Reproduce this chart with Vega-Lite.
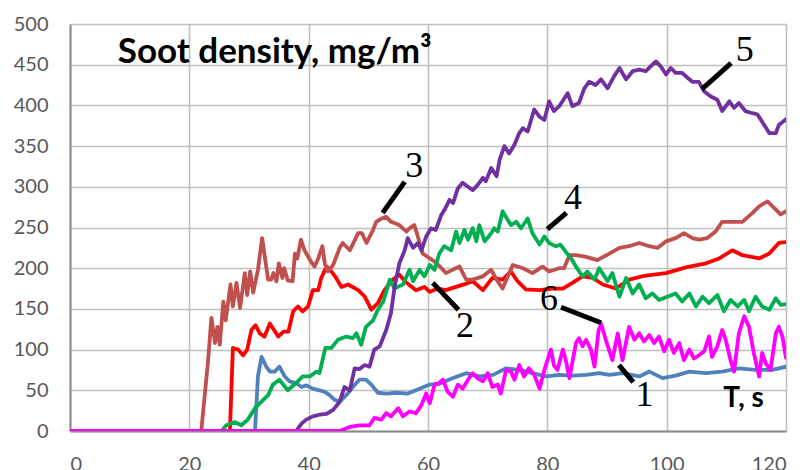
{
  "$schema": "https://vega.github.io/schema/vega-lite/v6.json",
  "width": 716,
  "height": 407,
  "autosize": {"type": "none"},
  "padding": {"left": 70, "top": 24, "right": 20, "bottom": 39},
  "background": "white",
  "config": {
    "view": {"stroke": null},
    "axis": {
      "grid": true,
      "gridColor": "#c0c0c0",
      "gridWidth": 1.6,
      "domainColor": "#8a8a8a",
      "domainWidth": 2,
      "ticks": false,
      "labelFont": "Lato",
      "labelFontSize": 20,
      "labelColor": "#595959",
      "title": null
    }
  },
  "datasets": {
    "series": [
      {"s":"1","x":0,"y":0},{"s":"1","x":31.0,"y":0},{"s":"1","x":31.5,"y":67},{"s":"1","x":32.1,"y":91},{"s":"1","x":32.9,"y":79},{"s":"1","x":33.5,"y":73},{"s":"1","x":34.3,"y":73},{"s":"1","x":35.1,"y":79},{"s":"1","x":36.0,"y":67},{"s":"1","x":36.8,"y":61},{"s":"1","x":37.9,"y":59},{"s":"1","x":38.8,"y":54},{"s":"1","x":39.6,"y":56},{"s":"1","x":40.7,"y":52},{"s":"1","x":41.8,"y":50},{"s":"1","x":42.7,"y":48},{"s":"1","x":43.5,"y":44},{"s":"1","x":44.4,"y":38},{"s":"1","x":45.2,"y":36},{"s":"1","x":46.3,"y":44},{"s":"1","x":47.4,"y":54},{"s":"1","x":48.5,"y":63},{"s":"1","x":49.6,"y":63},{"s":"1","x":50.5,"y":57},{"s":"1","x":51.6,"y":47},{"s":"1","x":53.0,"y":46},{"s":"1","x":54.7,"y":47},{"s":"1","x":56.6,"y":46},{"s":"1","x":58.6,"y":52},{"s":"1","x":60.3,"y":57},{"s":"1","x":61.9,"y":58},{"s":"1","x":64.2,"y":65},{"s":"1","x":66.4,"y":71},{"s":"1","x":68.6,"y":67},{"s":"1","x":70.9,"y":69},{"s":"1","x":73.1,"y":77},{"s":"1","x":75.3,"y":75},{"s":"1","x":77.5,"y":71},{"s":"1","x":79.8,"y":67},{"s":"1","x":82.0,"y":69},{"s":"1","x":84.2,"y":68},{"s":"1","x":86.5,"y":69},{"s":"1","x":88.7,"y":71},{"s":"1","x":90.4,"y":69},{"s":"1","x":92.6,"y":71},{"s":"1","x":95.4,"y":67},{"s":"1","x":97.1,"y":73},{"s":"1","x":99.3,"y":65},{"s":"1","x":101.5,"y":68},{"s":"1","x":103.8,"y":73},{"s":"1","x":106.6,"y":71},{"s":"1","x":109.3,"y":73},{"s":"1","x":112.1,"y":77},{"s":"1","x":114.9,"y":75},{"s":"1","x":117.7,"y":75},{"s":"1","x":120,"y":79},

      {"s":"2","x":0,"y":0},{"s":"2","x":26.8,"y":0},{"s":"2","x":27.3,"y":102},{"s":"2","x":28.2,"y":100},{"s":"2","x":29.0,"y":93},{"s":"2","x":29.7,"y":100},{"s":"2","x":30.4,"y":124},{"s":"2","x":31.1,"y":130},{"s":"2","x":31.8,"y":120},{"s":"2","x":32.6,"y":116},{"s":"2","x":33.5,"y":132},{"s":"2","x":34.2,"y":124},{"s":"2","x":34.9,"y":116},{"s":"2","x":35.8,"y":122},{"s":"2","x":36.6,"y":122},{"s":"2","x":37.4,"y":147},{"s":"2","x":38.2,"y":153},{"s":"2","x":39.0,"y":147},{"s":"2","x":39.9,"y":153},{"s":"2","x":40.7,"y":173},{"s":"2","x":41.6,"y":173},{"s":"2","x":42.1,"y":188},{"s":"2","x":43.0,"y":202},{"s":"2","x":43.8,"y":196},{"s":"2","x":44.6,"y":188},{"s":"2","x":45.5,"y":177},{"s":"2","x":46.6,"y":180},{"s":"2","x":48.3,"y":173},{"s":"2","x":49.4,"y":165},{"s":"2","x":50.5,"y":149},{"s":"2","x":51.6,"y":157},{"s":"2","x":52.7,"y":173},{"s":"2","x":54.1,"y":186},{"s":"2","x":55.2,"y":192},{"s":"2","x":56.4,"y":182},{"s":"2","x":58.0,"y":173},{"s":"2","x":59.4,"y":177},{"s":"2","x":60.3,"y":171},{"s":"2","x":61.7,"y":175},{"s":"2","x":63.0,"y":173},{"s":"2","x":64.7,"y":177},{"s":"2","x":66.4,"y":181},{"s":"2","x":67.5,"y":184},{"s":"2","x":69.2,"y":173},{"s":"2","x":70.8,"y":188},{"s":"2","x":72.5,"y":186},{"s":"2","x":73.9,"y":196},{"s":"2","x":75.0,"y":184},{"s":"2","x":76.4,"y":174},{"s":"2","x":78.7,"y":173},{"s":"2","x":80.9,"y":175},{"s":"2","x":82.6,"y":175},{"s":"2","x":84.2,"y":182},{"s":"2","x":85.9,"y":190},{"s":"2","x":87.6,"y":188},{"s":"2","x":89.3,"y":180},{"s":"2","x":91.5,"y":175},{"s":"2","x":93.7,"y":186},{"s":"2","x":96.5,"y":191},{"s":"2","x":99.9,"y":194},{"s":"2","x":103.2,"y":201},{"s":"2","x":106.6,"y":206},{"s":"2","x":108.8,"y":212},{"s":"2","x":111.0,"y":222},{"s":"2","x":112.7,"y":216},{"s":"2","x":115.5,"y":212},{"s":"2","x":117.2,"y":218},{"s":"2","x":118.8,"y":231},{"s":"2","x":120,"y":232},

      {"s":"3","x":0,"y":0},{"s":"3","x":22.0,"y":0},{"s":"3","x":23.1,"y":83},{"s":"3","x":23.7,"y":139},{"s":"3","x":24.3,"y":108},{"s":"3","x":24.7,"y":128},{"s":"3","x":25.1,"y":106},{"s":"3","x":25.7,"y":159},{"s":"3","x":26.1,"y":136},{"s":"3","x":26.9,"y":180},{"s":"3","x":27.3,"y":153},{"s":"3","x":27.9,"y":182},{"s":"3","x":28.5,"y":151},{"s":"3","x":29.3,"y":194},{"s":"3","x":29.7,"y":167},{"s":"3","x":30.2,"y":196},{"s":"3","x":30.7,"y":170},{"s":"3","x":31.5,"y":198},{"s":"3","x":32.2,"y":237},{"s":"3","x":33.2,"y":186},{"s":"3","x":33.7,"y":186},{"s":"3","x":34.1,"y":194},{"s":"3","x":34.6,"y":184},{"s":"3","x":35.0,"y":206},{"s":"3","x":35.6,"y":188},{"s":"3","x":35.9,"y":200},{"s":"3","x":36.5,"y":185},{"s":"3","x":37.3,"y":184},{"s":"3","x":37.7,"y":218},{"s":"3","x":38.1,"y":212},{"s":"3","x":38.7,"y":235},{"s":"3","x":39.3,"y":222},{"s":"3","x":40.4,"y":208},{"s":"3","x":41.0,"y":202},{"s":"3","x":41.6,"y":212},{"s":"3","x":42.3,"y":227},{"s":"3","x":42.7,"y":206},{"s":"3","x":43.2,"y":196},{"s":"3","x":44.1,"y":204},{"s":"3","x":45.2,"y":225},{"s":"3","x":45.7,"y":231},{"s":"3","x":46.9,"y":222},{"s":"3","x":48.3,"y":243},{"s":"3","x":48.9,"y":243},{"s":"3","x":49.7,"y":231},{"s":"3","x":50.8,"y":247},{"s":"3","x":51.3,"y":257},{"s":"3","x":52.2,"y":261},{"s":"3","x":53.0,"y":263},{"s":"3","x":53.8,"y":257},{"s":"3","x":55.2,"y":253},{"s":"3","x":56.4,"y":245},{"s":"3","x":56.9,"y":249},{"s":"3","x":57.7,"y":253},{"s":"3","x":58.3,"y":239},{"s":"3","x":59.1,"y":218},{"s":"3","x":59.9,"y":214},{"s":"3","x":61.1,"y":208},{"s":"3","x":62.0,"y":202},{"s":"3","x":63.0,"y":194},{"s":"3","x":64.1,"y":198},{"s":"3","x":65.3,"y":202},{"s":"3","x":66.4,"y":186},{"s":"3","x":67.5,"y":186},{"s":"3","x":69.2,"y":190},{"s":"3","x":70.6,"y":198},{"s":"3","x":71.5,"y":186},{"s":"3","x":72.5,"y":175},{"s":"3","x":73.4,"y":190},{"s":"3","x":74.2,"y":204},{"s":"3","x":75.9,"y":200},{"s":"3","x":77.5,"y":194},{"s":"3","x":79.2,"y":202},{"s":"3","x":80.3,"y":196},{"s":"3","x":82.0,"y":200},{"s":"3","x":82.8,"y":200},{"s":"3","x":83.7,"y":216},{"s":"3","x":84.8,"y":216},{"s":"3","x":86.5,"y":214},{"s":"3","x":88.4,"y":210},{"s":"3","x":90.4,"y":218},{"s":"3","x":92.1,"y":225},{"s":"3","x":93.7,"y":227},{"s":"3","x":95.4,"y":231},{"s":"3","x":97.1,"y":227},{"s":"3","x":98.5,"y":225},{"s":"3","x":99.9,"y":233},{"s":"3","x":101.5,"y":237},{"s":"3","x":102.9,"y":243},{"s":"3","x":104.3,"y":237},{"s":"3","x":105.4,"y":235},{"s":"3","x":106.8,"y":237},{"s":"3","x":108.2,"y":245},{"s":"3","x":109.3,"y":257},{"s":"3","x":111.0,"y":257},{"s":"3","x":112.7,"y":257},{"s":"3","x":114.4,"y":268},{"s":"3","x":115.5,"y":276},{"s":"3","x":116.9,"y":282},{"s":"3","x":118.3,"y":272},{"s":"3","x":119.1,"y":266},{"s":"3","x":120,"y":270},

      {"s":"4","x":0,"y":0},{"s":"4","x":25.4,"y":0},{"s":"4","x":26.2,"y":7},{"s":"4","x":27.6,"y":11},{"s":"4","x":28.7,"y":7},{"s":"4","x":29.8,"y":14},{"s":"4","x":31.0,"y":28},{"s":"4","x":32.1,"y":36},{"s":"4","x":33.2,"y":44},{"s":"4","x":34.0,"y":57},{"s":"4","x":35.1,"y":63},{"s":"4","x":36.5,"y":50},{"s":"4","x":37.9,"y":59},{"s":"4","x":39.0,"y":67},{"s":"4","x":40.2,"y":67},{"s":"4","x":41.3,"y":73},{"s":"4","x":41.8,"y":71},{"s":"4","x":42.8,"y":102},{"s":"4","x":43.8,"y":102},{"s":"4","x":44.9,"y":112},{"s":"4","x":46.3,"y":116},{"s":"4","x":47.4,"y":114},{"s":"4","x":48.0,"y":120},{"s":"4","x":48.8,"y":106},{"s":"4","x":49.6,"y":128},{"s":"4","x":50.8,"y":136},{"s":"4","x":51.6,"y":149},{"s":"4","x":52.5,"y":159},{"s":"4","x":53.6,"y":186},{"s":"4","x":54.4,"y":175},{"s":"4","x":55.2,"y":178},{"s":"4","x":55.8,"y":180},{"s":"4","x":56.9,"y":198},{"s":"4","x":57.5,"y":184},{"s":"4","x":58.6,"y":198},{"s":"4","x":59.4,"y":190},{"s":"4","x":60.3,"y":204},{"s":"4","x":61.1,"y":198},{"s":"4","x":61.9,"y":218},{"s":"4","x":62.7,"y":227},{"s":"4","x":63.9,"y":222},{"s":"4","x":64.7,"y":245},{"s":"4","x":65.3,"y":231},{"s":"4","x":66.1,"y":247},{"s":"4","x":66.7,"y":235},{"s":"4","x":67.5,"y":249},{"s":"4","x":68.1,"y":233},{"s":"4","x":68.6,"y":253},{"s":"4","x":69.5,"y":233},{"s":"4","x":70.6,"y":243},{"s":"4","x":71.1,"y":249},{"s":"4","x":71.7,"y":245},{"s":"4","x":72.5,"y":270},{"s":"4","x":73.4,"y":259},{"s":"4","x":73.9,"y":253},{"s":"4","x":74.8,"y":257},{"s":"4","x":75.6,"y":249},{"s":"4","x":76.7,"y":261},{"s":"4","x":77.5,"y":243},{"s":"4","x":78.7,"y":229},{"s":"4","x":79.5,"y":239},{"s":"4","x":80.3,"y":231},{"s":"4","x":81.4,"y":227},{"s":"4","x":82.2,"y":229},{"s":"4","x":83.1,"y":220},{"s":"4","x":84.0,"y":212},{"s":"4","x":84.8,"y":202},{"s":"4","x":85.9,"y":190},{"s":"4","x":86.7,"y":196},{"s":"4","x":87.9,"y":186},{"s":"4","x":88.7,"y":200},{"s":"4","x":90.1,"y":184},{"s":"4","x":90.9,"y":194},{"s":"4","x":92.1,"y":165},{"s":"4","x":93.2,"y":188},{"s":"4","x":94.3,"y":169},{"s":"4","x":95.4,"y":180},{"s":"4","x":96.5,"y":163},{"s":"4","x":97.6,"y":169},{"s":"4","x":98.7,"y":161},{"s":"4","x":100.1,"y":165},{"s":"4","x":101.5,"y":169},{"s":"4","x":102.6,"y":159},{"s":"4","x":103.8,"y":169},{"s":"4","x":104.9,"y":153},{"s":"4","x":106.0,"y":165},{"s":"4","x":107.1,"y":157},{"s":"4","x":108.5,"y":167},{"s":"4","x":109.6,"y":147},{"s":"4","x":110.7,"y":161},{"s":"4","x":111.9,"y":153},{"s":"4","x":113.0,"y":161},{"s":"4","x":113.8,"y":147},{"s":"4","x":114.9,"y":165},{"s":"4","x":116.0,"y":153},{"s":"4","x":117.2,"y":149},{"s":"4","x":118.3,"y":163},{"s":"4","x":119.1,"y":155},{"s":"4","x":120,"y":156},

      {"s":"5","x":0,"y":0},{"s":"5","x":37.9,"y":0},{"s":"5","x":38.8,"y":9},{"s":"5","x":39.6,"y":14},{"s":"5","x":40.7,"y":18},{"s":"5","x":41.8,"y":20},{"s":"5","x":43.0,"y":21},{"s":"5","x":44.1,"y":26},{"s":"5","x":45.2,"y":36},{"s":"5","x":46.0,"y":54},{"s":"5","x":46.9,"y":50},{"s":"5","x":47.7,"y":77},{"s":"5","x":48.5,"y":76},{"s":"5","x":49.4,"y":81},{"s":"5","x":50.2,"y":79},{"s":"5","x":51.0,"y":100},{"s":"5","x":51.9,"y":104},{"s":"5","x":53.0,"y":124},{"s":"5","x":53.8,"y":145},{"s":"5","x":54.4,"y":177},{"s":"5","x":55.2,"y":206},{"s":"5","x":56.1,"y":222},{"s":"5","x":56.6,"y":237},{"s":"5","x":57.5,"y":225},{"s":"5","x":58.3,"y":231},{"s":"5","x":58.9,"y":222},{"s":"5","x":59.7,"y":239},{"s":"5","x":60.5,"y":249},{"s":"5","x":61.3,"y":247},{"s":"5","x":62.2,"y":265},{"s":"5","x":62.8,"y":272},{"s":"5","x":63.6,"y":284},{"s":"5","x":64.2,"y":280},{"s":"5","x":65.0,"y":298},{"s":"5","x":65.8,"y":305},{"s":"5","x":66.7,"y":300},{"s":"5","x":67.5,"y":296},{"s":"5","x":68.3,"y":302},{"s":"5","x":69.2,"y":311},{"s":"5","x":69.7,"y":307},{"s":"5","x":70.6,"y":323},{"s":"5","x":71.5,"y":313},{"s":"5","x":72.0,"y":333},{"s":"5","x":72.8,"y":350},{"s":"5","x":73.6,"y":341},{"s":"5","x":74.5,"y":352},{"s":"5","x":75.3,"y":366},{"s":"5","x":75.9,"y":372},{"s":"5","x":76.7,"y":368},{"s":"5","x":77.8,"y":395},{"s":"5","x":78.7,"y":386},{"s":"5","x":79.5,"y":382},{"s":"5","x":80.3,"y":405},{"s":"5","x":81.1,"y":393},{"s":"5","x":82.0,"y":399},{"s":"5","x":83.4,"y":415},{"s":"5","x":84.2,"y":399},{"s":"5","x":85.3,"y":403},{"s":"5","x":86.2,"y":421},{"s":"5","x":87.0,"y":429},{"s":"5","x":88.1,"y":425},{"s":"5","x":89.0,"y":432},{"s":"5","x":90.1,"y":421},{"s":"5","x":91.2,"y":436},{"s":"5","x":92.1,"y":446},{"s":"5","x":93.2,"y":432},{"s":"5","x":94.3,"y":442},{"s":"5","x":95.4,"y":444},{"s":"5","x":96.5,"y":442},{"s":"5","x":97.3,"y":448},{"s":"5","x":98.2,"y":454},{"s":"5","x":99.0,"y":448},{"s":"5","x":99.9,"y":438},{"s":"5","x":100.7,"y":446},{"s":"5","x":101.5,"y":440},{"s":"5","x":102.6,"y":440},{"s":"5","x":103.5,"y":434},{"s":"5","x":104.3,"y":429},{"s":"5","x":105.4,"y":429},{"s":"5","x":106.3,"y":417},{"s":"5","x":107.4,"y":411},{"s":"5","x":108.5,"y":407},{"s":"5","x":109.3,"y":393},{"s":"5","x":110.5,"y":405},{"s":"5","x":111.3,"y":397},{"s":"5","x":112.1,"y":403},{"s":"5","x":113.2,"y":393},{"s":"5","x":114.1,"y":391},{"s":"5","x":115.2,"y":389},{"s":"5","x":116.0,"y":380},{"s":"5","x":117.2,"y":366},{"s":"5","x":118.3,"y":366},{"s":"5","x":118.8,"y":376},{"s":"5","x":120,"y":383},

      {"s":"6","x":0,"y":0},{"s":"6","x":45.2,"y":0},{"s":"6","x":46.9,"y":5},{"s":"6","x":48.5,"y":7},{"s":"6","x":50.2,"y":7},{"s":"6","x":51.0,"y":16},{"s":"6","x":52.2,"y":14},{"s":"6","x":53.0,"y":22},{"s":"6","x":53.8,"y":18},{"s":"6","x":55.0,"y":28},{"s":"6","x":55.8,"y":18},{"s":"6","x":56.9,"y":24},{"s":"6","x":58.0,"y":22},{"s":"6","x":58.9,"y":32},{"s":"6","x":59.7,"y":46},{"s":"6","x":60.3,"y":34},{"s":"6","x":61.1,"y":57},{"s":"6","x":61.9,"y":59},{"s":"6","x":62.5,"y":63},{"s":"6","x":63.3,"y":48},{"s":"6","x":64.2,"y":42},{"s":"6","x":65.0,"y":57},{"s":"6","x":65.8,"y":52},{"s":"6","x":66.7,"y":63},{"s":"6","x":67.5,"y":71},{"s":"6","x":68.3,"y":65},{"s":"6","x":69.2,"y":61},{"s":"6","x":70.0,"y":71},{"s":"6","x":70.8,"y":54},{"s":"6","x":71.7,"y":57},{"s":"6","x":72.2,"y":46},{"s":"6","x":73.1,"y":75},{"s":"6","x":73.9,"y":73},{"s":"6","x":74.5,"y":63},{"s":"6","x":75.3,"y":81},{"s":"6","x":76.1,"y":67},{"s":"6","x":76.9,"y":77},{"s":"6","x":77.8,"y":69},{"s":"6","x":78.7,"y":52},{"s":"6","x":79.5,"y":75},{"s":"6","x":80.6,"y":100},{"s":"6","x":81.1,"y":81},{"s":"6","x":81.7,"y":75},{"s":"6","x":82.6,"y":100},{"s":"6","x":83.1,"y":87},{"s":"6","x":83.7,"y":65},{"s":"6","x":84.8,"y":108},{"s":"6","x":85.3,"y":114},{"s":"6","x":85.9,"y":104},{"s":"6","x":86.5,"y":112},{"s":"6","x":87.3,"y":100},{"s":"6","x":87.9,"y":79},{"s":"6","x":88.6,"y":124},{"s":"6","x":89.0,"y":132},{"s":"6","x":89.8,"y":112},{"s":"6","x":90.9,"y":87},{"s":"6","x":91.8,"y":120},{"s":"6","x":92.6,"y":87},{"s":"6","x":93.7,"y":128},{"s":"6","x":94.6,"y":112},{"s":"6","x":95.4,"y":120},{"s":"6","x":96.2,"y":110},{"s":"6","x":97.1,"y":118},{"s":"6","x":97.9,"y":108},{"s":"6","x":98.7,"y":116},{"s":"6","x":99.6,"y":98},{"s":"6","x":100.4,"y":112},{"s":"6","x":101.2,"y":96},{"s":"6","x":102.1,"y":108},{"s":"6","x":102.9,"y":87},{"s":"6","x":103.8,"y":100},{"s":"6","x":104.6,"y":89},{"s":"6","x":105.4,"y":93},{"s":"6","x":106.3,"y":98},{"s":"6","x":107.1,"y":116},{"s":"6","x":107.6,"y":91},{"s":"6","x":108.5,"y":104},{"s":"6","x":109.3,"y":124},{"s":"6","x":109.9,"y":112},{"s":"6","x":110.7,"y":87},{"s":"6","x":111.3,"y":73},{"s":"6","x":112.1,"y":120},{"s":"6","x":113.0,"y":141},{"s":"6","x":113.8,"y":128},{"s":"6","x":114.6,"y":96},{"s":"6","x":115.5,"y":67},{"s":"6","x":116.0,"y":96},{"s":"6","x":116.6,"y":83},{"s":"6","x":117.4,"y":75},{"s":"6","x":118.3,"y":120},{"s":"6","x":118.8,"y":128},{"s":"6","x":119.4,"y":116},{"s":"6","x":120,"y":90}
    ],
    "leaders": [
      {"n":"3","x":52.4,"y":268,"x2":56.1,"y2":306},
      {"n":"5","x":105.9,"y":420,"x2":110.8,"y2":452},
      {"n":"4","x":80.0,"y":248,"x2":83.2,"y2":268},
      {"n":"2","x":60.8,"y":182,"x2":65.1,"y2":149},
      {"n":"6","x":82.3,"y":152,"x2":89.0,"y2":133},
      {"n":"1","x":92.0,"y":81,"x2":94.4,"y2":60}
    ],
    "numbers": [
      {"t":"3","x":57.7,"y":312},
      {"t":"5","x":113.1,"y":454},
      {"t":"4","x":84.3,"y":273},
      {"t":"2","x":66.2,"y":115},
      {"t":"6","x":80.3,"y":149},
      {"t":"1","x":96.3,"y":31}
    ],
    "titles": [
      {"t":"Soot density, mg/m³","x":8.0,"y":452}
    ],
    "units": [
      {"t":"T, s","x":112.9,"y":29}
    ]
  },
  "layer": [
    {
      "data": {"name": "series"},
      "mark": {"type": "line", "strokeWidth": 3.8, "strokeJoin": "round", "strokeCap": "round", "clip": true},
      "encoding": {
        "x": {"field": "x", "type": "quantitative", "scale": {"domain": [0, 120], "nice": false}, "axis": {"values": [0, 20, 40, 60, 80, 100, 120], "labelPadding": 23}},
        "y": {"field": "y", "type": "quantitative", "scale": {"domain": [0, 500], "nice": false}, "axis": {"values": [0, 50, 100, 150, 200, 250, 300, 350, 400, 450, 500], "labelPadding": 22}},
        "color": {"field": "s", "type": "nominal", "scale": {"domain": ["1", "2", "3", "4", "5", "6"], "range": ["#4f81bd", "#ff0000", "#c0504d", "#00b050", "#7030a0", "#ff00ff"]}, "legend": null},
        "order": {"field": "x", "type": "quantitative"}
      }
    },
    {
      "data": {"name": "leaders"},
      "mark": {"type": "rule", "color": "black", "strokeWidth": 5},
      "encoding": {
        "x": {"field": "x", "type": "quantitative"},
        "y": {"field": "y", "type": "quantitative"},
        "x2": {"field": "x2"},
        "y2": {"field": "y2"}
      }
    },
    {
      "data": {"name": "numbers"},
      "mark": {"type": "text", "font": "Liberation Serif", "fontSize": 36, "color": "black", "align": "center", "baseline": "alphabetic"},
      "encoding": {
        "x": {"field": "x", "type": "quantitative"},
        "y": {"field": "y", "type": "quantitative"},
        "text": {"field": "t"}
      }
    },
    {
      "data": {"name": "titles"},
      "mark": {"type": "text", "font": "Lato", "fontSize": 35, "fontWeight": "bold", "color": "black", "align": "left", "baseline": "alphabetic"},
      "encoding": {
        "x": {"field": "x", "type": "quantitative"},
        "y": {"field": "y", "type": "quantitative"},
        "text": {"field": "t"}
      }
    },
    {
      "data": {"name": "units"},
      "mark": {"type": "text", "font": "Lato", "fontSize": 28, "fontWeight": "bold", "color": "black", "align": "center", "baseline": "alphabetic"},
      "encoding": {
        "x": {"field": "x", "type": "quantitative"},
        "y": {"field": "y", "type": "quantitative"},
        "text": {"field": "t"}
      }
    }
  ]
}
